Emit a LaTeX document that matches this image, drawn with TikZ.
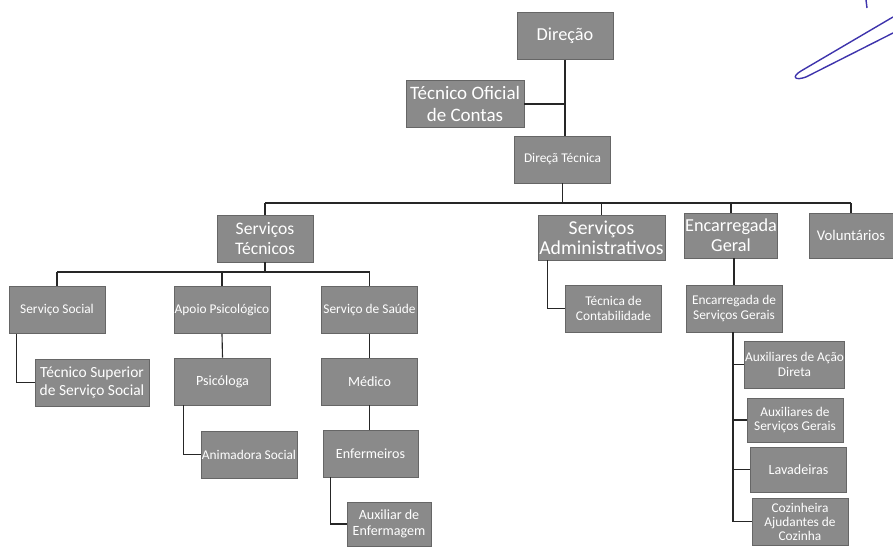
\documentclass[tikz,border=0pt]{standalone}
\usepackage{fontspec}
\setmainfont{Carlito}
\usepackage{tikz}
\usetikzlibrary{calc}
\definecolor{cinza}{RGB}{138,138,138}
\definecolor{tinta}{RGB}{62,52,172}

\begin{document}
\begin{tikzpicture}[
    x=0.025cm, y=-0.025cm,
    every node/.style={draw=black!60, line width=0.5pt, fill=cinza, text=white, align=center, inner sep=0.5pt, minimum width=2.4cm, minimum height=1.175cm},
    linha/.style={draw=black!85, line width=0.8pt}
]
\tikzset{
    grande/.style={font=\fontsize{13}{14.5}\selectfont},
    media/.style={font=\fontsize{10}{11.5}\selectfont},
    pequena/.style={font=\fontsize{9.5}{10.5}\selectfont}
}
\useasboundingbox (0,0) rectangle (893,546);

\node[grande] (direcao) at (565,36) {Direção};
\node[grande, font=\fontsize{13.5}{15}\selectfont, minimum width=2.95cm] (toc) at (465,104) {Técnico Oficial\\de Contas};
\node[pequena] (dirtec) at (562.5,159.5) {Direçã Técnica};

\node[grande, font=\fontsize{12.5}{14.5}\selectfont] (servtec) at (265,238.5) {Serviços\\Técnicos};
\node[grande, font=\fontsize{14}{14.5}\selectfont, minimum width=3.175cm, minimum height=1.125cm] (servadm) at (601.5,237.5) {Serviços\\Administrativos};
\node[grande, minimum width=2.3cm, minimum height=1.125cm] (encger) at (731,235.5) {Encarregada\\Geral};
\node[media, font=\fontsize{10.5}{12}\selectfont, minimum width=2.1cm, minimum height=1.125cm] (volunt) at (851,235.5) {Voluntários};

\node[pequena] (servsoc) at (57,310) {Serviço Social};
\node[pequena] (apoio) at (222,310) {Apoio Psicológico};
\node[pequena] (saude) at (369.5,310) {Serviço de Saúde};

\node[font=\fontsize{11}{12.5}\selectfont, minimum width=2.85cm] (tecsup) at (92,382.5) {Técnico Superior\\de Serviço Social};
\node[media] (psico) at (222.5,381.5) {Psicóloga};
\node[media] (medico) at (369.5,381.5) {Médico};
\node[pequena] (animadora) at (249,454.5) {Animadora Social};
\node[media, minimum width=2.375cm] (enferm) at (370.5,453.5) {Enfermeiros};
\node[media, minimum width=2.1cm, minimum height=1.1cm] (auxenf) at (389,524) {Auxiliar de\\Enfermagem};

\node[pequena] (teccont) at (613.5,308.5) {Técnica de\\Contabilidade};
\node[pequena] (esg) at (734,308.5) {Encarregada de\\Serviços Gerais};
\node[pequena, minimum width=2.375cm] (aad) at (794.5,364.5) {Auxiliares de Ação\\Direta};
\node[pequena, minimum height=1.1cm] (asg) at (795,420) {Auxiliares de\\Serviços Gerais};
\node[media, minimum height=1.125cm] (lav) at (798.5,469.5) {Lavadeiras};
\node[pequena, font=\fontsize{9.5}{10}\selectfont] (coz) at (800,521.5) {Cozinheira\\Ajudantes de\\Cozinha};

\coordinate (barra) at (0,203);
\coordinate (subbarra) at (0,272);

\draw[linha] (direcao.south) -- (direcao.south |- dirtec.north);
\draw[linha] (toc.east) -- (toc.east -| direcao.south);
\draw[linha] (dirtec.south) -- (dirtec.south |- barra);
\draw[linha] (servtec.north |- barra) -- (volunt.north |- barra);
\foreach \n in {servtec, servadm, encger, volunt}
    \draw[linha] (\n.north |- barra) -- (\n.north);

\draw[linha] (servtec.south) -- (servtec.south |- subbarra);
\draw[linha] (servsoc.north |- subbarra) -- (saude.north |- subbarra);
\foreach \n in {servsoc, apoio, saude}
    \draw[linha] (\n.north |- subbarra) -- (\n.north);

\draw[linha] ($(servsoc.south west)+(8,0)$) |- (tecsup.west);
\draw[linha] (apoio.south) -- (psico.north);
\draw[linha] ($(psico.south west)+(9,0)$) |- (animadora.west);
\draw[linha] (saude.south) -- (saude.south |- medico.north);
\draw[linha] (medico.south) -- (medico.south |- enferm.north);
\draw[linha] ($(enferm.south west)+(8,0)$) |- (auxenf.west);

\draw[linha] ($(servadm.south west)+(10,0)$) |- (teccont.west);
\draw[linha] (encger.south -| esg.north) -- (esg.north);
\draw[linha] ($(esg.south)+(-1,0)$) |- (coz.west);
\foreach \n in {aad, asg, lav}
    \draw[linha] (\n.west -| coz.west) ++(-19,0) -- (\n.west);

\draw[tinta, line width=1pt, line join=round] (893,17) -- (801,71) .. controls (791,77) and (795,81) .. (806,77) -- (893,33);
\draw[tinta, line width=1pt] (866,0) -- (867,8);
\end{tikzpicture}
\end{document}
